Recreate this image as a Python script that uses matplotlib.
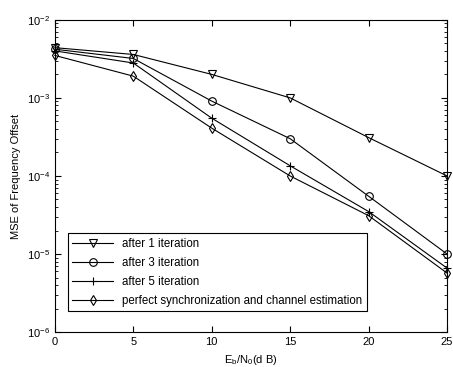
import matplotlib
matplotlib.use("Agg")
import matplotlib.pyplot as plt

plt.rcParams["font.family"] = ["Liberation Sans", "DejaVu Sans"]
plt.rcParams["mathtext.fontset"] = "custom"
plt.rcParams["mathtext.rm"] = "Liberation Sans"
plt.rcParams["mathtext.it"] = "Liberation Sans"
plt.rcParams["font.size"] = 8

ebn0 = [0, 5, 10, 15, 20, 25]
mse_iter1 = [4.4e-3, 3.6e-3, 2.0e-3, 1.0e-3, 3.1e-4, 1.0e-4]
mse_iter3 = [4.2e-3, 3.2e-3, 9.1e-4, 3.0e-4, 5.5e-5, 1.0e-5]
mse_iter5 = [4.0e-3, 2.8e-3, 5.5e-4, 1.35e-4, 3.5e-5, 6.6e-6]
mse_perfect = [3.5e-3, 1.9e-3, 4.1e-4, 1.0e-4, 3.1e-5, 5.7e-6]

labels = ["after 1 iteration", "after 3 iteration", "after 5 iteration",
          "perfect synchronization and channel estimation"]
markers = ["v", "o", "+", "d"]

fig = plt.figure(figsize=(4.53, 3.67), dpi=100)
ax = fig.add_axes([0.121, 0.095, 0.866, 0.851])

for y, lab, m in zip([mse_iter1, mse_iter3, mse_iter5, mse_perfect], labels, markers):
    ax.plot(ebn0, y, color="black", linewidth=0.8, marker=m, markersize=5.5,
            markerfacecolor="none", markeredgecolor="black", markeredgewidth=0.8,
            label=lab, clip_on=False)

ax.set_yscale("log")
ax.set_xlim(0, 25)
ax.set_ylim(1e-6, 1e-2)
ax.set_xticks([0, 5, 10, 15, 20, 25])
ax.tick_params(which="both", direction="in", top=True, right=True)
ax.tick_params(which="major", length=4)
ax.tick_params(which="minor", length=2)
ax.set_xlabel(r"E$_\mathrm{b}$/N$_\mathrm{0}$(d B)")
ax.set_ylabel("MSE of Frequency Offset")

leg = ax.legend(loc="lower left", bbox_to_anchor=(0.033, 0.067), fancybox=False,
                edgecolor="black", framealpha=1, handlelength=3.5,
                borderaxespad=0, labelspacing=0.6, fontsize=8.3)
leg.get_frame().set_linewidth(0.8)

fig.savefig("out.png", dpi=100)
